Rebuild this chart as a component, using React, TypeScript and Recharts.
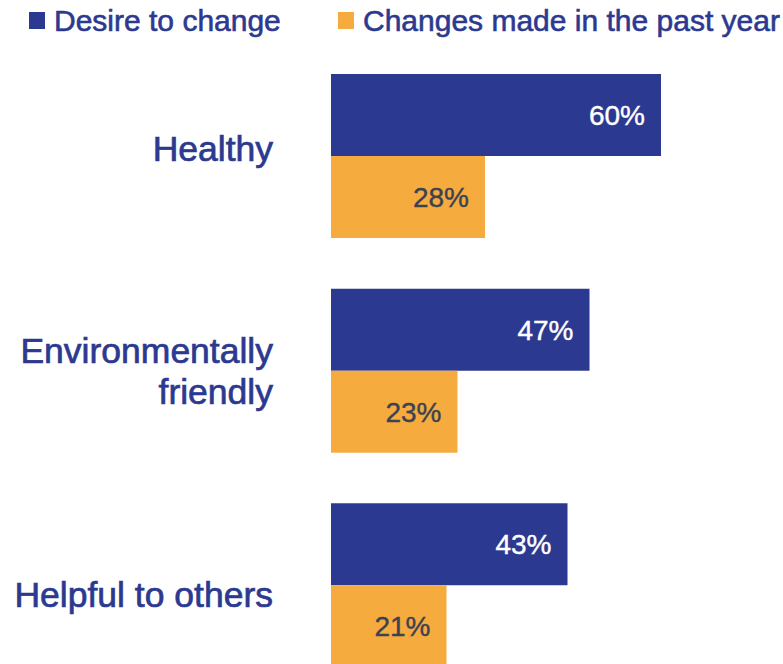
import React from 'react';
import { BarChart, Bar, XAxis, YAxis, Legend, LabelList } from 'recharts';

const categories = ['Healthy', 'Environmentally\nfriendly', 'Helpful to others'];
const desireToChange = [60, 47, 43];
const changesMade = [28, 23, 21];
const seriesNames = ['Desire to change', 'Changes made in the past year'];

const BLUE = '#2C3990';
const ORANGE = '#F6AB3F';
const FONT = '"Liberation Sans", Arial, sans-serif';
// small vertical nudges so the category labels sit where the original put them
const tickNudge = [-7, 0, 9];

const data = categories.map((name, i) => ({ name, desire: desireToChange[i], changes: changesMade[i] }));

const CategoryTick = (props: any) => {
    const { x, y, payload, index } = props;
    const lines = String(payload.value).split('\n');
    const lineH = 41;
    const startY = y + (tickNudge[index] || 0) - ((lines.length - 1) * lineH) / 2;
    return (
        <text x={x} y={startY} textAnchor="end" dominantBaseline="central" fill={BLUE} stroke={BLUE} strokeWidth={0.7} fontSize={35.5} fontFamily={FONT}>
            {lines.map((l, i) => (
                <tspan key={i} x={x} y={startY + i * lineH}>{l}</tspan>
            ))}
        </text>
    );
};

const LegendContent = () => (
    <div style={{ position: 'relative', height: 40, fontFamily: FONT, fontSize: 30, color: BLUE, WebkitTextStroke: `0.6px ${BLUE}` }}>
        {[BLUE, ORANGE].map((c, i) => (
            <div key={i} style={{ position: 'absolute', left: i === 0 ? 29 : 338, top: 0, display: 'flex', alignItems: 'center', whiteSpace: 'nowrap', height: 41 }}>
                <span style={{ display: 'inline-block', width: 16, height: 17, background: c, marginRight: 9 }} />
                <span>{seriesNames[i]}</span>
            </div>
        ))}
    </div>
);

export default function App() {
    return (
        <div style={{ width: 783, height: 664, overflow: 'hidden', position: 'relative', background: '#fff' }}>
            <style>{'body{margin:0}'}</style>
            <BarChart
                width={783}
                height={693}
                data={data}
                layout="vertical"
                margin={{ top: 9, right: 12, bottom: 0, left: 0 }}
                barGap={0}
            >
                <XAxis type="number" domain={[0, 80]} hide />
                <YAxis
                    type="category"
                    dataKey="name"
                    width={331}
                    axisLine={false}
                    tickLine={false}
                    tickSize={0}
                    tickMargin={58}
                    tick={<CategoryTick />}
                    interval={0}
                />
                <Legend verticalAlign="top" align="left" height={40} content={<LegendContent />} wrapperStyle={{ top: 0, left: 0 }} />
                <Bar dataKey="desire" name={seriesNames[0]} fill={BLUE} barSize={82} isAnimationActive={false}>
                    <LabelList dataKey="desire" position="insideRight" offset={16} formatter={(v: any) => `${v}%`} fill="#FFFFFF" stroke="#FFFFFF" strokeWidth={0.4} fontSize={28} fontFamily={FONT} />
                </Bar>
                <Bar dataKey="changes" name={seriesNames[1]} fill={ORANGE} barSize={82} isAnimationActive={false}>
                    <LabelList dataKey="changes" position="insideRight" offset={16} formatter={(v: any) => `${v}%`} fill="#3B4252" stroke="#3B4252" strokeWidth={0.4} fontSize={28} fontFamily={FONT} />
                </Bar>
            </BarChart>
        </div>
    );
}
